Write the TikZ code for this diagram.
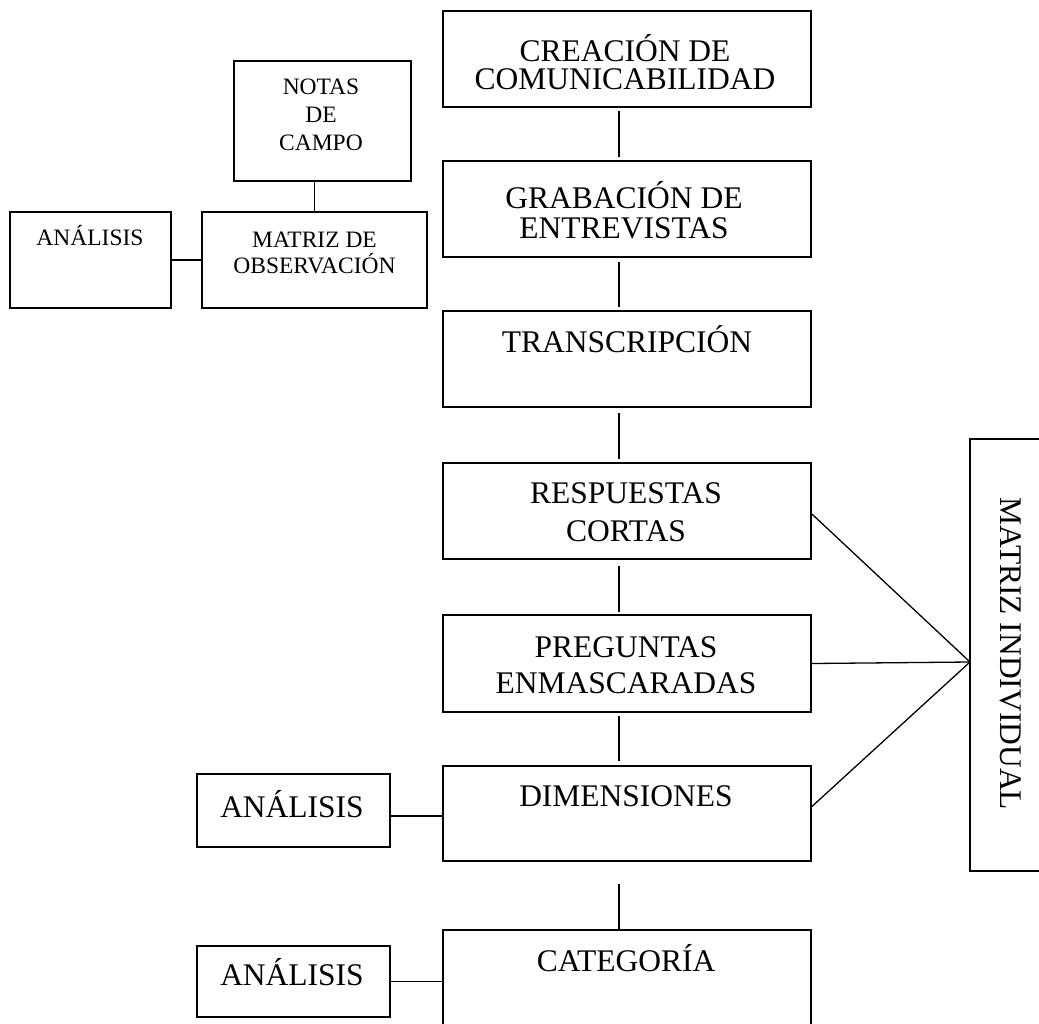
\documentclass[tikz,border=0pt]{standalone}
\usepackage{fontspec}
\setmainfont{Liberation Serif}
\usetikzlibrary{calc}
\begin{document}
\begin{tikzpicture}[x=1pt,y=-1pt,
  box/.style={draw, line width=1.8pt, rectangle, inner sep=0pt},
  mainbox/.style={box, minimum width=368pt, minimum height=96pt},
  txt/.style={inner sep=0pt, anchor=base, align=center},
  bigtxt/.style={txt, font=\fontsize{31.5}{#1}\selectfont},
  bigtxt/.default=30,
  smalltxt/.style={txt, font=\fontsize{23.5}{#1}\selectfont},
  smalltxt/.default=27,
  link/.style={line width=1.5pt},
  diag/.style={line width=1.3pt}
]
\useasboundingbox (0,0) rectangle (1039,1023);

% main column boxes
\node[mainbox] (c1) at (627,59) {};
\node[mainbox] (c2) at (627,209) {};
\node[mainbox] (c3) at (627,359) {};
\node[mainbox] (c4) at (627,511) {};
\node[mainbox, minimum height=97pt] (c5) at (627,663.5) {};
\node[mainbox, minimum height=95pt] (c6) at (627,813.5) {};
\node[mainbox] (c7) at (627,978) {};

% texts of main column (anchor = baseline of the last line)
\node[bigtxt=27.5] (t1) at (625,89) {CREACIÓN DE\\COMUNICABILIDAD};
\node[bigtxt=30] (t2) at (624,238) {GRABACIÓN DE\\ENTREVISTAS};
\node[bigtxt] (t3) at (627,352.5) {TRANSCRIPCIÓN};
\node[bigtxt=38] (t4) at (626,541) {RESPUESTAS\\CORTAS};
\node[bigtxt=36] (t5) at (626,693) {PREGUNTAS\\ENMASCARADAS};
\node[bigtxt] (t6) at (626,806) {DIMENSIONES};
\node[bigtxt] (t7) at (626,971) {CATEGORÍA};

% left upper group
\node[box, minimum width=177pt, minimum height=120pt] (n) at (322.5,121) {};
\node[smalltxt=28] (nt) at (321,150) {NOTAS\\DE\\CAMPO};
\node[box, minimum width=225pt, minimum height=96pt] (m) at (314.5,260) {};
\node[smalltxt=26] (mt) at (314.5,273) {MATRIZ DE\\OBSERVACIÓN};
\node[box, minimum width=161pt, minimum height=96pt] (a1) at (90.5,260) {};
\node[smalltxt] (a1t) at (90,245) {ANÁLISIS};

% lower left analysis boxes
\node[box, minimum width=193pt, minimum height=73pt] (a2) at (293.5,810.5) {};
\node[bigtxt] (a2t) at (292,817) {ANÁLISIS};
\node[box, minimum width=193pt, minimum height=71pt] (a3) at (293.5,981.5) {};
\node[bigtxt] (a3t) at (292,985) {ANÁLISIS};

% right matrix
\node[box, minimum width=80pt, minimum height=432pt] (mi) at (1010,655) {};
\node[bigtxt, rotate=-90] (mit) at (1000,654) {MATRIZ INDIVIDUAL};
\coordinate (apex) at (970,662);

% vertical connectors of main column
\draw[link] ($(c1.south)+(-8,3)$) -- ($(c2.north)+(-8,-3)$);
\draw[link] ($(c2.south)+(-8,4)$) -- ($(c3.north)+(-8,-3)$);
\draw[link] ($(c3.south)+(-8,5)$) -- ($(c4.north)+(-8,-3)$);
\draw[link] ($(c4.south)+(-8,6)$) -- ($(c5.north)+(-8,-2)$);
\draw[link] ($(c5.south)+(-8,3)$) -- ($(c6.north)+(-8,-4)$);
\draw[link] ($(c6.south)+(-8,22)$) -- ($(c7.north)+(-8,0)$);

% left upper connectors
\draw[link] (m.north) -- (m.north |- n.south);
\draw[link] (a1.east) -- (m.west);

% lower left connectors
\coordinate (a2r) at ([yshift=-5.5pt]a2.east);
\draw[link] (a2r) -- (a2r -| c6.west);
\draw[link] (a3.east) -- (a3.east -| c7.west);

% connectors to the matrix
\draw[diag] ([yshift=-3pt]c4.east) -- (apex);
\draw[diag] (c5.east) -- (apex);
\draw[diag] ([yshift=7pt]c6.east) -- (apex);
\end{tikzpicture}
\end{document}
